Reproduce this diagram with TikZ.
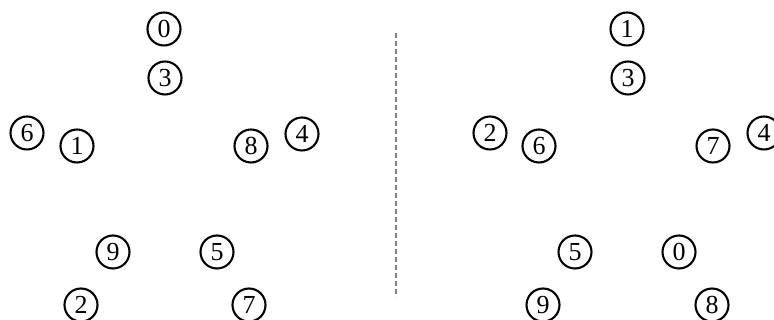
\documentclass[tikz,border=0pt]{standalone}
\usepackage{fontspec}
\setmainfont{Liberation Serif}
\begin{document}
\begin{tikzpicture}[x=1pt,y=1pt,
  num/.style={circle,draw,line width=2.1pt,minimum size=33pt,inner sep=0pt,font=\fontsize{26}{26}\selectfont},
  sep/.style={draw=black!50,line width=2.2pt,dash pattern=on 5pt off 3pt}]
\useasboundingbox (0,0) rectangle (774,320);
% left
\node[num] (L0) at (164,291) {0};
\node[num] (L3) at (165,242) {3};
\node[num] (L6) at (27,187) {6};
\node[num] (L1) at (77,174) {1};
\node[num] (L8) at (251,174) {8};
\node[num] (L4) at (302,186) {4};
\node[num] (L9) at (113,68) {9};
\node[num] (L5) at (217,68) {5};
\node[num] (L2) at (81,15) {2};
\node[num] (L7) at (249,15) {7};
% separator
\coordinate (st) at (396,287);
\coordinate (sb) at (396,23);
\draw[sep] (st) -- (sb);
% right
\node[num] (R1) at (627,291) {1};
\node[num] (R3) at (628,242) {3};
\node[num] (R2) at (490,187) {2};
\node[num] (R6) at (539,174) {6};
\node[num] (R7) at (713,174) {7};
\node[num] (R4) at (764,187) {4};
\node[num] (R5) at (575,68) {5};
\node[num] (R0) at (679,68) {0};
\node[num] (R9) at (543,15) {9};
\node[num] (R8) at (712,15) {8};
\end{tikzpicture}
\end{document}
